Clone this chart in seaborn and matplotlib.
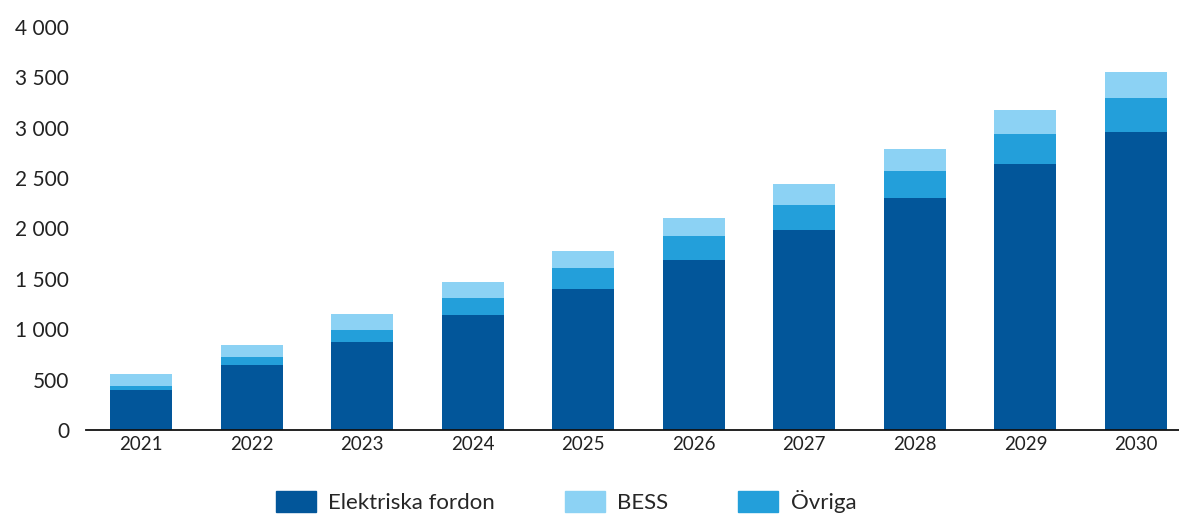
import seaborn as sns
import matplotlib.pyplot as plt
import pandas as pd
from matplotlib.patches import Patch
from matplotlib.ticker import FuncFormatter

# Values
years = ["2021", "2022", "2023", "2024", "2025", "2026", "2027", "2028", "2029", "2030"]
elektriska_fordon = [400, 648, 876, 1138, 1403, 1691, 1988, 2306, 2644, 2955]
ovriga = [38, 80, 120, 175, 208, 231, 249, 265, 297, 340]
bess = [115, 116, 155, 156, 166, 182, 205, 221, 239, 258]

col_ev = "#02569a"
col_ovr = "#239fda"
col_bess = "#8cd2f4"

sns.set_style("white")
plt.rcParams["font.family"] = ["Lato", "DejaVu Sans"]

df = pd.DataFrame({"year": years, "ev": elektriska_fordon, "ovr": ovriga, "bess": bess})
df["top_ovr"] = df["ev"] + df["ovr"]
df["top_bess"] = df["top_ovr"] + df["bess"]

fig = plt.figure(figsize=(11.79, 5.15), dpi=100)
ax = fig.add_axes([86 / 1179, 85 / 515, 1 - 86 / 1179, 403 / 515])

# Draw stacked bars from the top layer down
for col, c in [("top_bess", col_bess), ("top_ovr", col_ovr), ("ev", col_ev)]:
    sns.barplot(data=df, x="year", y=col, color=c, width=0.56, saturation=1,
                linewidth=0, ax=ax)

ax.set_ylim(0, 4000)
ax.set_xlim(-0.5, 9.39)
ax.set_yticks(range(0, 4001, 500))
ax.yaxis.set_major_formatter(FuncFormatter(lambda v, p: f"{int(v):,}".replace(",", " ")))
ax.set_xlabel("")
ax.set_ylabel("")
ax.tick_params(axis="y", labelsize=15, length=0, pad=12, colors="#222222")
ax.tick_params(axis="x", labelsize=13.5, length=0, pad=4, colors="#222222")

sns.despine(ax=ax, left=True, right=True, top=True)
ax.spines["bottom"].set_color("#111111")
ax.spines["bottom"].set_linewidth(1.3)

handles = [Patch(color=col_ev, label="Elektriska fordon"),
           Patch(color=col_bess, label="BESS"),
           Patch(color=col_ovr, label="Övriga")]
fig.legend(handles=handles, loc="upper left", bbox_to_anchor=(276 / 1179, 25 / 515),
           ncol=3, frameon=False, fontsize=16, handlelength=1.8, handleheight=1.05,
           handletextpad=0.55, columnspacing=3.15, borderpad=0, borderaxespad=0)

fig.savefig("out.png", dpi=100)
